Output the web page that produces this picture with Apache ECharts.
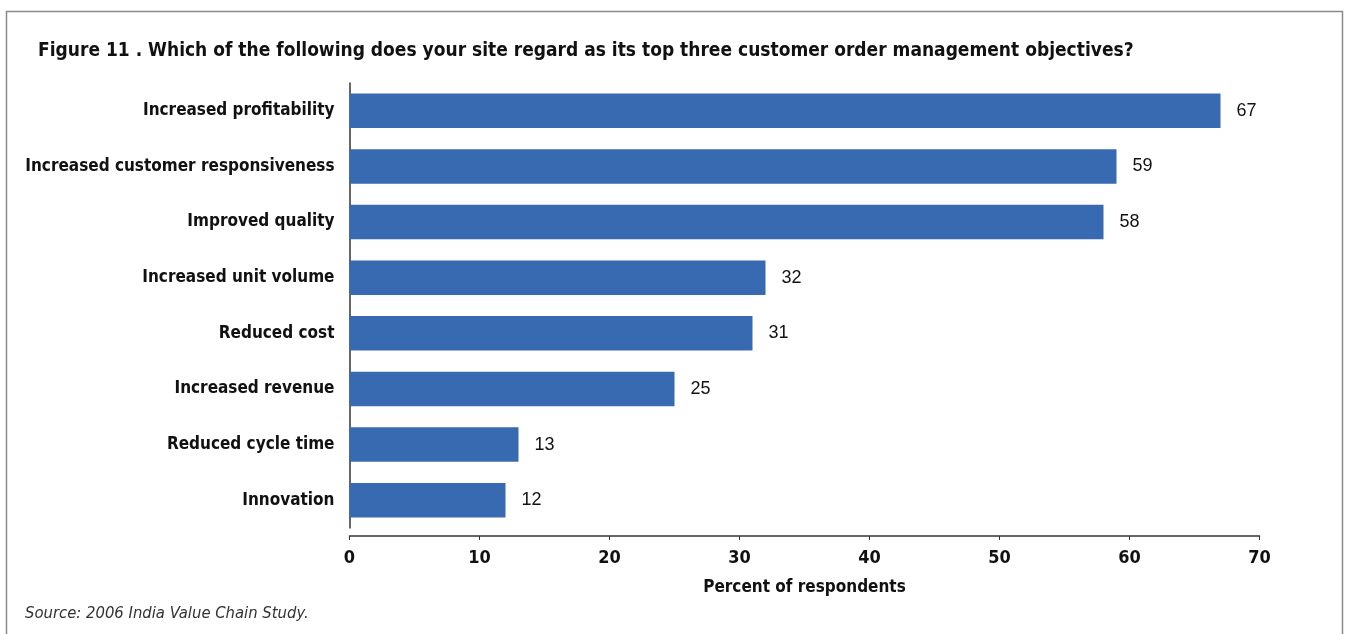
<!DOCTYPE html>
<html>
<head>
<meta charset="utf-8">
<script src="https://cdn.jsdelivr.net/npm/echarts@6/dist/echarts.min.js"></script>
<style>
html,body{margin:0;padding:0;background:#fff;}
#chart{width:1346px;height:634px;}
</style>
</head>
<body>
<div id="chart"></div>
<script>
const titleText = 'Figure 11 . Which of the following does your site regard as its top three customer order management objectives?';
const categories = ['Increased profitability','Increased customer responsiveness','Improved quality','Increased unit volume','Reduced cost','Increased revenue','Reduced cycle time','Innovation'];
const values = [67,59,58,32,31,25,13,12];
const xTicks = [0,10,20,30,40,50,60,70];
const xName = 'Percent of respondents';
const sourceText = 'Source: 2006 India Value Chain Study.';

const condensed = "'Liberation Sans Narrow','DejaVu Sans Condensed',sans-serif";
const chart = echarts.init(document.getElementById('chart'), null, {renderer:'canvas'});
chart.setOption({
  backgroundColor:'#fff',
  animation:false,
  title:{
    text:titleText,
    left:33, top:37,
    textStyle:{fontFamily:condensed, fontWeight:'bold', fontSize:19, color:'#111'}
  },
  graphic:[
    {type:'rect', shape:{x:6.5,y:11.5,width:1336,height:640}, style:{fill:'none', stroke:'#8a8a8a', lineWidth:1.5}, silent:true},
    {type:'text', left:25, top:605, style:{text:sourceText, font:"italic 16.5px "+condensed, fill:'#333'}}
  ],
  grid:{left:349.5, top:83, width:910, height:445, containLabel:false},
  xAxis:{
    type:'value', min:0, max:70, interval:10, offset:8,
    axisLine:{show:true, lineStyle:{color:'#333', width:1.5}},
    axisTick:{show:true, length:4, lineStyle:{color:'#333'}},
    splitLine:{show:false},
    axisLabel:{fontFamily:condensed, fontWeight:'bold', fontSize:18, color:'#111', margin:13,
      formatter:function(v){return xTicks.indexOf(v)>=0?String(v):'';}},
    name:xName, nameLocation:'middle', nameGap:43,
    nameTextStyle:{fontFamily:condensed, fontWeight:'bold', fontSize:17, color:'#111'}
  },
  yAxis:{
    type:'category', data:categories, inverse:true,
    axisLine:{show:true, lineStyle:{color:'#333', width:1.5}},
    axisTick:{show:false},
    axisLabel:{fontFamily:condensed, fontWeight:'bold', fontSize:17, color:'#111', margin:15}
  },
  series:[{
    type:'bar', data:values, barWidth:34.5,
    itemStyle:{color:'#386AB1'},
    label:{show:true, position:'right', distance:16, fontFamily:"'Liberation Sans','Arial',sans-serif", fontSize:18, color:'#111'}
  }]
});
</script>
</body>
</html>
